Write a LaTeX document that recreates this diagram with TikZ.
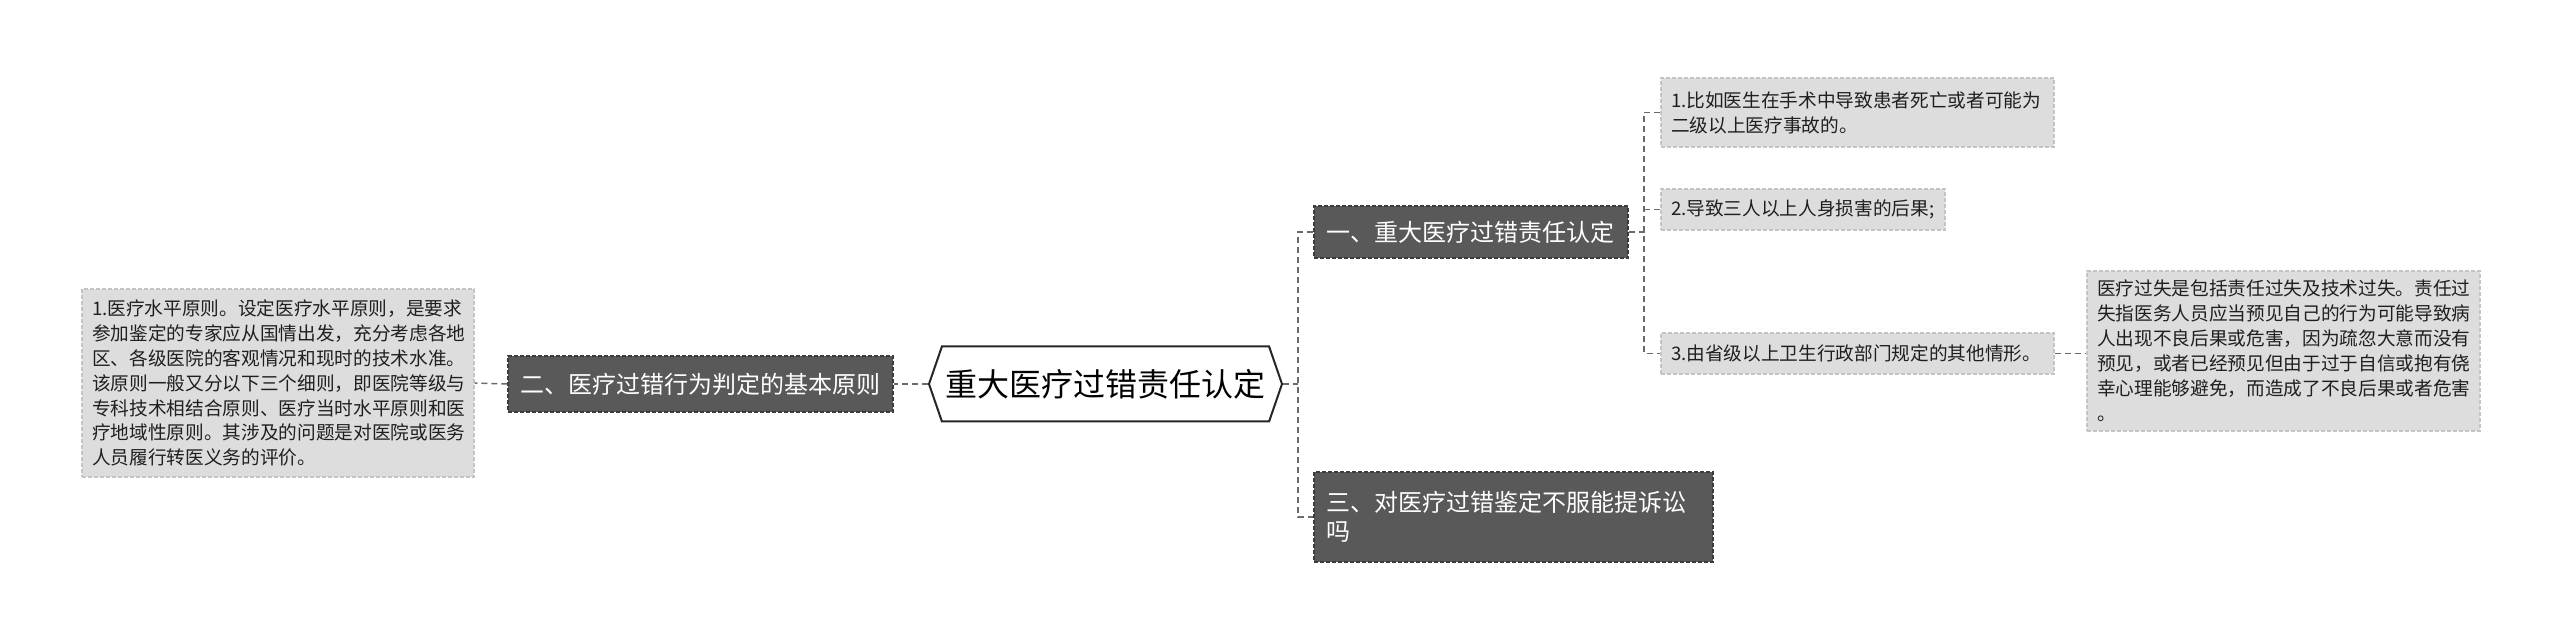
\documentclass[tikz,border=0pt]{standalone}
\usepackage{fontspec}
\setmainfont{Noto Sans CJK SC}
\usetikzlibrary{shapes.symbols}
\definecolor{darkfill}{HTML}{595959}
\definecolor{darkline}{HTML}{3C3C3C}
\definecolor{lightfill}{HTML}{DDDDDD}
\definecolor{lightline}{HTML}{C4C4C4}
\definecolor{connline}{HTML}{6A6A6A}
\begin{document}
\begin{tikzpicture}[x=0.75pt,y=-0.75pt,
  darkbox/.style={rectangle, fill=darkfill, draw=darkline, dashed, dash pattern=on 3pt off 1.5pt, line width=0.8pt,
     text=white, font=\fontsize{18pt}{22pt}\selectfont, align=left, inner xsep=0pt, inner ysep=0pt},
  lightbox/.style={rectangle, fill=lightfill, draw=lightline, dash pattern=on 3pt off 1.5pt, line width=0.8pt,
     text=black!88, font=\fontsize{14pt}{18.7pt}\selectfont, align=left, inner xsep=0pt, inner ysep=0pt},
  centerbox/.style={signal, signal to=west and east, signal pointer angle=142, draw=black!85, line width=1.5pt, fill=white,
     font=\fontsize{24pt}{28pt}\selectfont, inner sep=0pt},
  conn/.style={draw=connline, line width=1.1pt, dash pattern=on 4.5pt off 3pt}
]
\useasboundingbox (0,0) rectangle (2560,641);

\node[centerbox, minimum width={353*0.75pt}, minimum height={75*0.75pt}] (c) at (1105.5,384) {重大医疗过错责任认定};

\node[darkbox, minimum width={385*0.75pt}, minimum height={56*0.75pt}, text width={361*0.75pt}] (b2) at (700.5,384) {二、医疗过错行为判定的基本原则};

\node[lightbox, minimum width={392*0.75pt}, minimum height={188*0.75pt}, text width={372*0.75pt}] (L) at (278,383) {1.医疗水平原则。设定医疗水平原则，是要求\\参加鉴定的专家应从国情出发，充分考虑各地\\区、各级医院的客观情况和现时的技术水准。\\该原则一般又分以下三个细则，即医院等级与\\专科技术相结合原则、医疗当时水平原则和医\\疗地域性原则。其涉及的问题是对医院或医务\\人员履行转医义务的评价。};

\node[darkbox, minimum width={314*0.75pt}, minimum height={52*0.75pt}, text width={290*0.75pt}] (b1) at (1471,232) {一、重大医疗过错责任认定};

\node[darkbox, minimum width={399*0.75pt}, minimum height={90*0.75pt}, text width={375*0.75pt}] (b3) at (1513.5,517) {三、对医疗过错鉴定不服能提诉讼\\吗};

\node[lightbox, minimum width={393*0.75pt}, minimum height={69*0.75pt}, text width={373*0.75pt}] (i1) at (1857.5,112.5) {1.比如医生在手术中导致患者死亡或者可能为\\二级以上医疗事故的。};

\node[lightbox, minimum width={284*0.75pt}, minimum height={41*0.75pt}, text width={264*0.75pt}] (i2) at (1803,209.5) {2.导致三人以上人身损害的后果;};

\node[lightbox, minimum width={393*0.75pt}, minimum height={41*0.75pt}, text width={373*0.75pt}] (i3) at (1857.5,353.5) {3.由省级以上卫生行政部门规定的其他情形。};

\node[lightbox, minimum width={393*0.75pt}, minimum height={160*0.75pt}, text width={373*0.75pt}] (R) at (2283.5,351) {医疗过失是包括责任过失及技术过失。责任过\\失指医务人员应当预见自己的行为可能导致病\\人出现不良后果或危害，因为疏忽大意而没有\\预见，或者已经预见但由于过于自信或抱有侥\\幸心理能够避免，而造成了不良后果或者危害\\。};

% trunk coordinates
\coordinate (t1) at (1298,384);
\coordinate (t2) at (1644,232);

\draw[conn] (c.east) -- (t1);
\draw[conn] (b1.west) -| (t1) |- (b3.west);
\draw[conn] (b1.east) -- (t2);
\draw[conn] (i1.west) -| (t2) |- (i3.west);
\draw[conn] (i2.west) -- (i2.west -| t2);
\draw[conn] (i3.east) -- (i3.east -| R.west);
\draw[conn] (c.west) -- (b2.east);
\draw[conn] (b2.west) -- (L.east);
\end{tikzpicture}
\end{document}
